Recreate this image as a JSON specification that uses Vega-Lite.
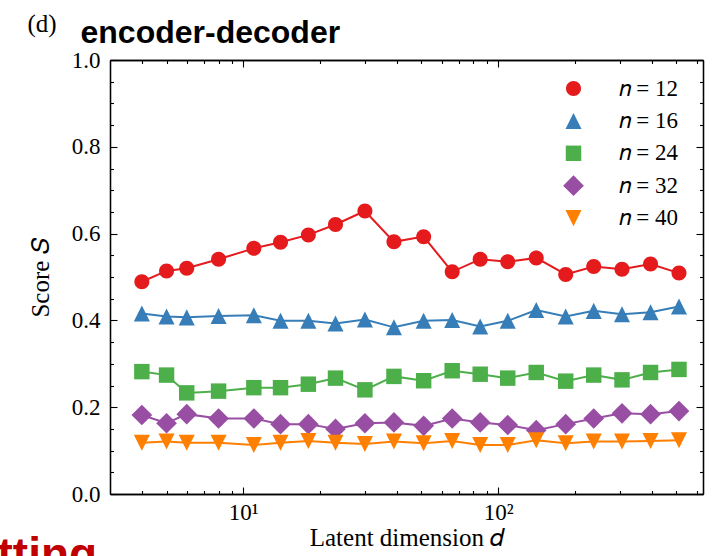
{
  "$schema": "https://vega.github.io/schema/vega-lite/v6.json",
  "width": 593,
  "height": 434,
  "autosize": "none",
  "padding": {"left": 110, "top": 60, "right": 12, "bottom": 62},
  "background": "white",
  "config": {
    "view": {"stroke": null},
    "axis": {"grid": false, "domainColor": "black", "domainWidth": 1.3, "tickColor": "black", "tickWidth": 1.1, "labelFont": "Liberation Serif", "labelFontSize": 23, "labelColor": "black", "titleFont": "Liberation Serif", "titleFontSize": 25, "titleColor": "black", "titleFontWeight": "normal", "labelFlush": false},
    "legend": {"title": null, "orient": "none", "legendX": 452, "legendY": 17, "padding": 0, "rowPadding": 8.4, "gridAlign": "all", "labelOffset": 33.5, "symbolSize": 225, "symbolStrokeWidth": 0, "labelFont": "Liberation Serif", "labelFontSize": 23, "labelColor": "black"}
  },
  "data": {"values": [
    {"n": "𝑛 = 12", "d": 4, "S": 0.489}, {"n": "𝑛 = 12", "d": 5, "S": 0.514}, {"n": "𝑛 = 12", "d": 6, "S": 0.520}, {"n": "𝑛 = 12", "d": 8, "S": 0.541}, {"n": "𝑛 = 12", "d": 11, "S": 0.566},
    {"n": "𝑛 = 12", "d": 14, "S": 0.580}, {"n": "𝑛 = 12", "d": 18, "S": 0.597}, {"n": "𝑛 = 12", "d": 23, "S": 0.621}, {"n": "𝑛 = 12", "d": 30, "S": 0.652}, {"n": "𝑛 = 12", "d": 39, "S": 0.581},
    {"n": "𝑛 = 12", "d": 51, "S": 0.593}, {"n": "𝑛 = 12", "d": 66, "S": 0.512}, {"n": "𝑛 = 12", "d": 85, "S": 0.541}, {"n": "𝑛 = 12", "d": 109, "S": 0.535}, {"n": "𝑛 = 12", "d": 141, "S": 0.544},
    {"n": "𝑛 = 12", "d": 184, "S": 0.506}, {"n": "𝑛 = 12", "d": 237, "S": 0.524}, {"n": "𝑛 = 12", "d": 306, "S": 0.518}, {"n": "𝑛 = 12", "d": 396, "S": 0.530}, {"n": "𝑛 = 12", "d": 512, "S": 0.509},
    {"n": "𝑛 = 16", "d": 4, "S": 0.416}, {"n": "𝑛 = 16", "d": 5, "S": 0.409}, {"n": "𝑛 = 16", "d": 6, "S": 0.407}, {"n": "𝑛 = 16", "d": 8, "S": 0.410}, {"n": "𝑛 = 16", "d": 11, "S": 0.412},
    {"n": "𝑛 = 16", "d": 14, "S": 0.399}, {"n": "𝑛 = 16", "d": 18, "S": 0.399}, {"n": "𝑛 = 16", "d": 23, "S": 0.393}, {"n": "𝑛 = 16", "d": 30, "S": 0.402}, {"n": "𝑛 = 16", "d": 39, "S": 0.384},
    {"n": "𝑛 = 16", "d": 51, "S": 0.399}, {"n": "𝑛 = 16", "d": 66, "S": 0.401}, {"n": "𝑛 = 16", "d": 85, "S": 0.386}, {"n": "𝑛 = 16", "d": 109, "S": 0.399}, {"n": "𝑛 = 16", "d": 141, "S": 0.424},
    {"n": "𝑛 = 16", "d": 184, "S": 0.409}, {"n": "𝑛 = 16", "d": 237, "S": 0.422}, {"n": "𝑛 = 16", "d": 306, "S": 0.414}, {"n": "𝑛 = 16", "d": 396, "S": 0.419}, {"n": "𝑛 = 16", "d": 512, "S": 0.432},
    {"n": "𝑛 = 24", "d": 4, "S": 0.282}, {"n": "𝑛 = 24", "d": 5, "S": 0.274}, {"n": "𝑛 = 24", "d": 6, "S": 0.233}, {"n": "𝑛 = 24", "d": 8, "S": 0.237}, {"n": "𝑛 = 24", "d": 11, "S": 0.245},
    {"n": "𝑛 = 24", "d": 14, "S": 0.245}, {"n": "𝑛 = 24", "d": 18, "S": 0.253}, {"n": "𝑛 = 24", "d": 23, "S": 0.267}, {"n": "𝑛 = 24", "d": 30, "S": 0.240}, {"n": "𝑛 = 24", "d": 39, "S": 0.271},
    {"n": "𝑛 = 24", "d": 51, "S": 0.261}, {"n": "𝑛 = 24", "d": 66, "S": 0.284}, {"n": "𝑛 = 24", "d": 85, "S": 0.276}, {"n": "𝑛 = 24", "d": 109, "S": 0.267}, {"n": "𝑛 = 24", "d": 141, "S": 0.280},
    {"n": "𝑛 = 24", "d": 184, "S": 0.260}, {"n": "𝑛 = 24", "d": 237, "S": 0.274}, {"n": "𝑛 = 24", "d": 306, "S": 0.263}, {"n": "𝑛 = 24", "d": 396, "S": 0.280}, {"n": "𝑛 = 24", "d": 512, "S": 0.287},
    {"n": "𝑛 = 32", "d": 4, "S": 0.182}, {"n": "𝑛 = 32", "d": 5, "S": 0.163}, {"n": "𝑛 = 32", "d": 6, "S": 0.184}, {"n": "𝑛 = 32", "d": 8, "S": 0.174}, {"n": "𝑛 = 32", "d": 11, "S": 0.174},
    {"n": "𝑛 = 32", "d": 14, "S": 0.161}, {"n": "𝑛 = 32", "d": 18, "S": 0.161}, {"n": "𝑛 = 32", "d": 23, "S": 0.150}, {"n": "𝑛 = 32", "d": 30, "S": 0.163}, {"n": "𝑛 = 32", "d": 39, "S": 0.165},
    {"n": "𝑛 = 32", "d": 51, "S": 0.157}, {"n": "𝑛 = 32", "d": 66, "S": 0.174}, {"n": "𝑛 = 32", "d": 85, "S": 0.165}, {"n": "𝑛 = 32", "d": 109, "S": 0.159}, {"n": "𝑛 = 32", "d": 141, "S": 0.147},
    {"n": "𝑛 = 32", "d": 184, "S": 0.161}, {"n": "𝑛 = 32", "d": 237, "S": 0.174}, {"n": "𝑛 = 32", "d": 306, "S": 0.186}, {"n": "𝑛 = 32", "d": 396, "S": 0.184}, {"n": "𝑛 = 32", "d": 512, "S": 0.191},
    {"n": "𝑛 = 40", "d": 4, "S": 0.118}, {"n": "𝑛 = 40", "d": 5, "S": 0.121}, {"n": "𝑛 = 40", "d": 6, "S": 0.118}, {"n": "𝑛 = 40", "d": 8, "S": 0.118}, {"n": "𝑛 = 40", "d": 11, "S": 0.113},
    {"n": "𝑛 = 40", "d": 14, "S": 0.118}, {"n": "𝑛 = 40", "d": 18, "S": 0.122}, {"n": "𝑛 = 40", "d": 23, "S": 0.118}, {"n": "𝑛 = 40", "d": 30, "S": 0.115}, {"n": "𝑛 = 40", "d": 39, "S": 0.121},
    {"n": "𝑛 = 40", "d": 51, "S": 0.117}, {"n": "𝑛 = 40", "d": 66, "S": 0.122}, {"n": "𝑛 = 40", "d": 85, "S": 0.113}, {"n": "𝑛 = 40", "d": 109, "S": 0.113}, {"n": "𝑛 = 40", "d": 141, "S": 0.124},
    {"n": "𝑛 = 40", "d": 184, "S": 0.117}, {"n": "𝑛 = 40", "d": 237, "S": 0.121}, {"n": "𝑛 = 40", "d": 306, "S": 0.121}, {"n": "𝑛 = 40", "d": 396, "S": 0.122}, {"n": "𝑛 = 40", "d": 512, "S": 0.124}
  ]},
  "resolve": {"axis": {"x": "independent", "y": "independent"}},
  "layer": [
    {
      "mark": {"type": "line", "strokeWidth": 2},
      "encoding": {
        "x": {"field": "d", "type": "quantitative", "scale": {"type": "log", "domain": [3, 636], "nice": false},
          "axis": {"orient": "bottom", "values": [10, 100], "labelExpr": "datum.value < 50 ? '10¹' : '10²'", "tickSize": -7, "labelPadding": 14, "title": "Latent dimension 𝑑", "titleX": 296.5, "titleY": 51, "titleAlign": "center", "titleBaseline": "alphabetic"}},
        "y": {"field": "S", "type": "quantitative", "scale": {"domain": [0, 1], "nice": false},
          "axis": {"orient": "left", "values": [0, 0.2, 0.4, 0.6, 0.8, 1], "format": ".1f", "tickSize": -7, "labelPadding": 17, "title": "Score 𝑆", "titleX": -70, "titleY": 217, "titleAngle": -90, "titleAlign": "center", "titleBaseline": "middle"}},
        "color": {"field": "n", "type": "nominal", "scale": {"domain": ["𝑛 = 12", "𝑛 = 16", "𝑛 = 24", "𝑛 = 32", "𝑛 = 40"], "range": ["#e41a1c", "#377eb8", "#4daf4a", "#984ea3", "#ff7f00"]}, "legend": {"title": null}}
      }
    },
    {
      "mark": {"type": "point", "filled": true, "opacity": 1, "size": 225, "strokeWidth": 0},
      "encoding": {
        "x": {"field": "d", "type": "quantitative",
          "axis": {"orient": "bottom", "values": [4, 5, 6, 7, 8, 9, 20, 30, 40, 50, 60, 70, 80, 90, 200, 300, 400, 500, 600], "labels": false, "tickSize": -3.5, "title": "tting", "titleFont": "Liberation Sans", "titleFontWeight": "bold", "titleFontSize": 46, "titleColor": "#c00000", "titleX": -113, "titleY": 75, "titleAlign": "left", "titleBaseline": "alphabetic"}},
        "y": {"field": "S", "type": "quantitative",
          "axis": {"orient": "left", "values": [0.05, 0.1, 0.15, 0.25, 0.3, 0.35, 0.45, 0.5, 0.55, 0.65, 0.7, 0.75, 0.85, 0.9, 0.95], "labels": false, "tickSize": -3.5, "title": null}},
        "color": {"field": "n", "type": "nominal", "legend": {"title": null}},
        "shape": {"field": "n", "type": "nominal",
          "scale": {"domain": ["𝑛 = 12", "𝑛 = 16", "𝑛 = 24", "𝑛 = 32", "𝑛 = 40"], "range": ["M1,0A1,1,0,1,1,-1,0A1,1,0,1,1,1,0Z", "M0,-1.07L1.07,1.07L-1.07,1.07Z", "M-1.03,-1.03H1.03V1.03H-1.03Z", "M0,-1.38L1.38,0L0,1.38L-1.38,0Z", "M0,1.07L1.07,-1.07L-1.07,-1.07Z"]},
          "legend": {"title": null}}
      }
    },
    {
      "mark": {"type": "point", "opacity": 0},
      "encoding": {
        "x": {"field": "d", "type": "quantitative",
          "axis": {"orient": "top", "values": [10, 100], "labels": false, "tickSize": -7, "title": "encoder-decoder", "titleFont": "Liberation Sans", "titleFontWeight": "bold", "titleFontSize": 32, "titleX": -30, "titleY": -17.7, "titleAlign": "left", "titleBaseline": "alphabetic"}},
        "y": {"field": "S", "type": "quantitative",
          "axis": {"orient": "right", "values": [0, 0.2, 0.4, 0.6, 0.8, 1], "labels": false, "tickSize": -7, "title": "(d)", "titleFont": "Liberation Serif", "titleFontSize": 25, "titleAngle": 0, "titleX": -676, "titleY": -28.3, "titleAlign": "left", "titleBaseline": "alphabetic"}}
      }
    },
    {
      "mark": {"type": "point", "opacity": 0},
      "encoding": {
        "x": {"field": "d", "type": "quantitative",
          "axis": {"orient": "top", "values": [4, 5, 6, 7, 8, 9, 20, 30, 40, 50, 60, 70, 80, 90, 200, 300, 400, 500, 600], "labels": false, "tickSize": -3.5, "title": null}},
        "y": {"field": "S", "type": "quantitative",
          "axis": {"orient": "right", "values": [0.05, 0.1, 0.15, 0.25, 0.3, 0.35, 0.45, 0.5, 0.55, 0.65, 0.7, 0.75, 0.85, 0.9, 0.95], "labels": false, "tickSize": -3.5, "title": null}}
      }
    }
  ]
}
